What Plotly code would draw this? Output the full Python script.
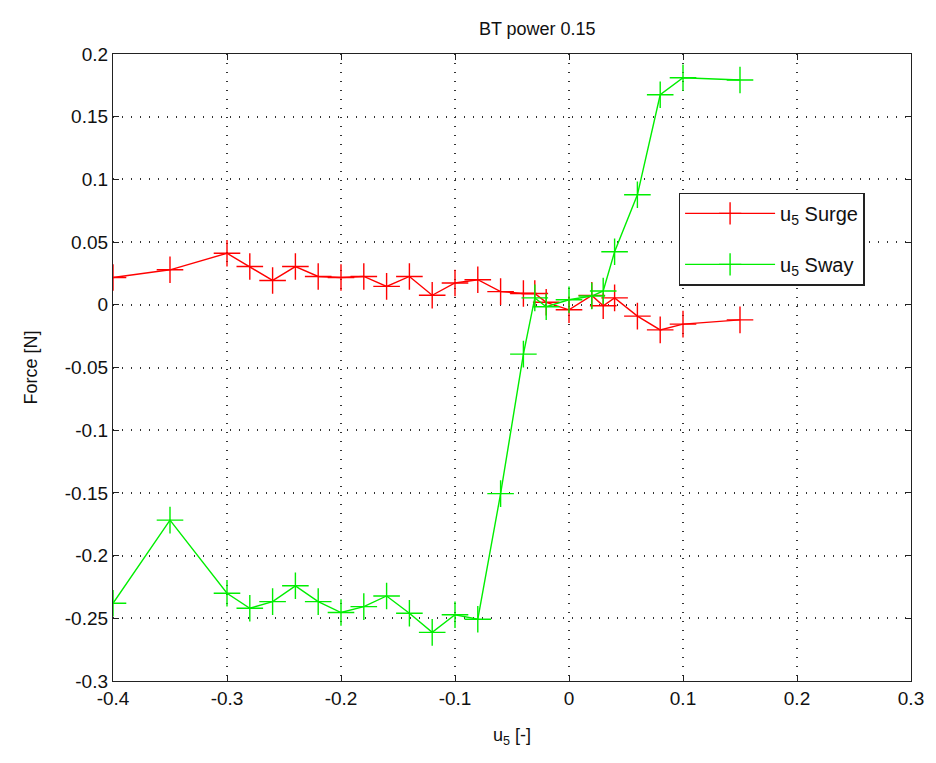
import plotly.graph_objects as go

# Measured control input u5 and resulting forces
u5_surge = [-0.40, -0.35, -0.30, -0.28, -0.26, -0.24, -0.22, -0.20, -0.18, -0.16,
            -0.14, -0.12, -0.10, -0.08, -0.06, -0.04, -0.03, -0.02, 0.00, 0.02,
            0.03, 0.04, 0.06, 0.08, 0.10, 0.15]
surge_force = [0.0218, 0.0279, 0.0411, 0.0305, 0.0194, 0.0305, 0.0226, 0.0218, 0.0226, 0.0147,
               0.0226, 0.0076, 0.0174, 0.0200, 0.0105, 0.0090, 0.0090, 0.0020, -0.0040, 0.0075,
               -0.0008, 0.0055, -0.0090, -0.0200, -0.0154, -0.0120]

u5_sway = [-0.40, -0.35, -0.30, -0.28, -0.26, -0.24, -0.22, -0.20, -0.18, -0.16,
           -0.14, -0.12, -0.10, -0.08, -0.06, -0.04, -0.03, -0.02, 0.00, 0.02,
           0.03, 0.04, 0.06, 0.08, 0.10, 0.15]
sway_force = [-0.2380, -0.1717, -0.2300, -0.2420, -0.2367, -0.2241, -0.2367, -0.2454, -0.2407, -0.2322,
              -0.2460, -0.2612, -0.2472, -0.2507, -0.1506, -0.0393, 0.0055, -0.0015, 0.0040, 0.0070,
              0.0110, 0.0423, 0.0877, 0.1675, 0.1811, 0.1793]

x_ticks = [-0.4, -0.3, -0.2, -0.1, 0.0, 0.1, 0.2, 0.3]
x_tick_text = ["-0.4", "-0.3", "-0.2", "-0.1", "0", "0.1", "0.2", "0.3"]
y_ticks = [0.2, 0.15, 0.1, 0.05, 0.0, -0.05, -0.1, -0.15, -0.2, -0.25, -0.3]
y_tick_text = ["0.2", "0.15", "0.1", "0.05", "0", "-0.05", "-0.1", "-0.15", "-0.2", "-0.25", "-0.3"]

FONT = "Liberation Sans"
RED = "#ff0000"
GREEN = "#00ee00"


def plus_marker(color):
    return dict(symbol="cross-thin", size=19, color=color, line=dict(width=1.4, color=color))


fig = go.Figure()
fig.add_trace(go.Scatter(
    x=u5_surge, y=surge_force, mode="lines+markers",
    name="u<sub>5</sub> Surge", legendgroup="surge",
    line=dict(color=RED, width=1.4),
    marker=plus_marker(RED),
))
fig.add_trace(go.Scatter(
    x=u5_sway, y=sway_force, mode="lines+markers",
    name="u<sub>5</sub> Sway", legendgroup="sway",
    line=dict(color=GREEN, width=1.4),
    marker=plus_marker(GREEN),
))

axis_common = dict(
    showline=True, linecolor="#222", linewidth=1.3, mirror="ticks",
    ticks="inside", ticklen=6, tickcolor="#222",
    showgrid=True, gridcolor="#333", griddash="1px,8px", gridwidth=1.6,
    zeroline=False,
    tickfont=dict(family=FONT, size=19, color="#111"),
)

fig.update_layout(
    width=936, height=763,
    paper_bgcolor="white", plot_bgcolor="white",
    margin=dict(l=113, r=20, t=54, b=82),
    title=dict(text="BT power 0.15", x=0.574, xanchor="center", y=0.963, yanchor="middle",
               font=dict(family=FONT, size=18, color="#111")),
    xaxis=dict(range=[-0.4, 0.3], tickvals=x_ticks, ticktext=x_tick_text,
               title=dict(text="u<sub>5</sub> [-]", font=dict(family=FONT, size=18, color="#111"),
                          standoff=20),
               **axis_common),
    yaxis=dict(range=[-0.3, 0.2], tickvals=y_ticks, ticktext=y_tick_text,
               title=dict(text="Force [N]", font=dict(family=FONT, size=18, color="#111"),
                          standoff=22),
               **axis_common),
    legend=dict(x=0.709, y=0.779, xanchor="left", yanchor="top",
                bgcolor="white", bordercolor="#222", borderwidth=1.3,
                font=dict(family=FONT, size=20, color="#111"),
                traceorder="grouped", tracegroupgap=22, itemwidth=90),
    showlegend=True,
)

fig.write_html("out.html")
